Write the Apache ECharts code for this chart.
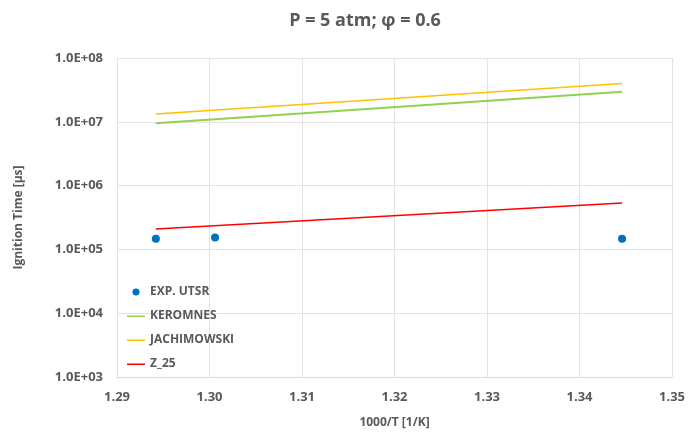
<!DOCTYPE html>
<html>
<head>
<meta charset="utf-8">
<script src="https://cdn.jsdelivr.net/npm/echarts@6/dist/echarts.min.js"></script>
<style>html,body{margin:0;padding:0;background:#fff}#c{width:688px;height:438px}</style>
</head>
<body>
<div id="c"></div>
<script>
const titleText = 'P = 5 atm; \u03c6 = 0.6';
const xName = '1000/T [1/K]';
const yName = 'Ignition Time [\u00b5s]';
const seriesNames = ['EXP. UTSR', 'KEROMNES', 'JACHIMOWSKI', 'Z_25'];
const expX = [1.2942, 1.3006, 1.3446];
const expY = [1.47e5, 1.53e5, 1.47e5];
const modelX = [1.2942, 1.3446];
const keromnesY = [9.5e6, 2.96e7];
const jachimowskiY = [1.32e7, 4.0e7];
const z25Y = [2.08e5, 5.35e5];
const colors = ['#0070C0', '#92D050', '#FFC000', '#FF0000'];

const pair = (xs, ys) => xs.map((x, i) => [x, ys[i]]);
const font = 'Open Sans';
const gray = '#595959';
const lineIcon = 'path://M0,0L20,0L20,0.01L0,0.01Z M0,3L20,3L20,4.6L0,4.6Z M0,7L20,7L20,7.01L0,7.01Z';

const chart = echarts.init(document.getElementById('c'), null, {renderer: 'canvas'});
chart.setOption({
  animation: false,
  title: {
    text: titleText, left: 360, top: 7, textAlign: 'center',
    textStyle: {fontFamily: font, fontSize: 18, fontWeight: 'bold', color: gray}
  },
  grid: {left: 117, right: 16, top: 58, bottom: 61, containLabel: false},
  legend: {
    orient: 'vertical', left: 122, top: 281, itemWidth: 18, itemHeight: 7, itemGap: 12,
    data: [
      {name: seriesNames[0], icon: 'circle'},
      {name: seriesNames[1], icon: lineIcon},
      {name: seriesNames[2], icon: lineIcon},
      {name: seriesNames[3], icon: lineIcon}
    ],
    textStyle: {fontFamily: font, fontSize: 12, fontWeight: 'bold', color: gray}
  },
  xAxis: {
    type: 'value', min: 1.29, max: 1.35, interval: 0.01,
    name: xName, nameLocation: 'middle', nameGap: 40,
    nameTextStyle: {fontFamily: font, fontSize: 12, fontWeight: 'bold', color: gray},
    axisLine: {show: true, lineStyle: {color: '#d9d9d9'}},
    axisTick: {show: false},
    axisLabel: {fontFamily: font, fontSize: 13, fontWeight: 'bold', color: gray, margin: 14,
      formatter: v => v.toFixed(2)},
    splitLine: {show: true, lineStyle: {color: '#e3e3e3'}}
  },
  yAxis: {
    type: 'log', logBase: 10, min: 1e3, max: 1e8,
    name: yName, nameLocation: 'middle', nameGap: 92,
    nameTextStyle: {fontFamily: font, fontSize: 12, fontWeight: 'bold', color: gray},
    axisLine: {show: false}, axisTick: {show: false},
    axisLabel: {fontFamily: font, fontSize: 13, fontWeight: 'bold', color: gray, margin: 14,
      formatter: v => {
        const e = Math.round(Math.log10(v));
        return '1.0E+' + (e < 10 ? '0' + e : e);
      }},
    splitLine: {show: true, lineStyle: {color: '#e3e3e3'}}
  },
  series: [
    {name: seriesNames[0], type: 'scatter', data: pair(expX, expY), symbolSize: 8,
      itemStyle: {color: colors[0], opacity: 1}},
    {name: seriesNames[1], type: 'line', data: pair(modelX, keromnesY), symbol: 'none',
      lineStyle: {color: colors[1], width: 2}, itemStyle: {color: colors[1]}},
    {name: seriesNames[2], type: 'line', data: pair(modelX, jachimowskiY), symbol: 'none',
      lineStyle: {color: colors[2], width: 1.5}, itemStyle: {color: colors[2]}},
    {name: seriesNames[3], type: 'line', data: pair(modelX, z25Y), symbol: 'none',
      lineStyle: {color: colors[3], width: 1.5}, itemStyle: {color: colors[3]}}
  ]
});
</script>
</body>
</html>
